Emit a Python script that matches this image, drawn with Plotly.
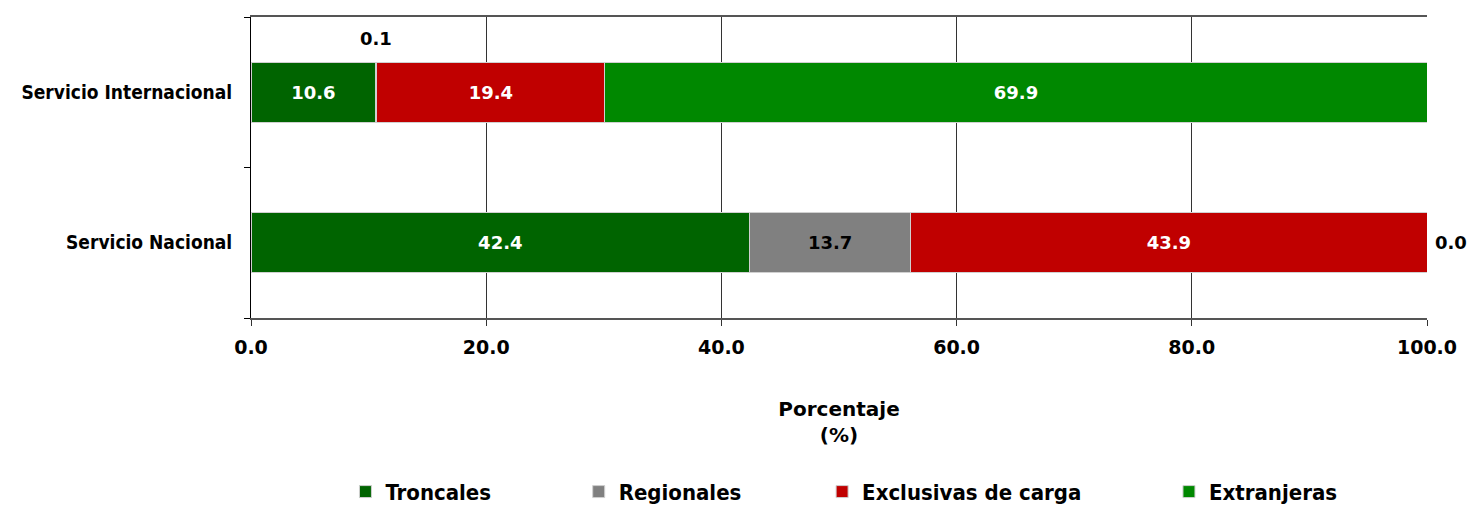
import plotly.graph_objects as go

# Data (percent by type of airline)
categories = ["Servicio Nacional", "Servicio Internacional"]
troncales = [42.4, 10.6]
regionales = [13.7, 0.1]
exclusivas_carga = [43.9, 19.4]
extranjeras = [0.0, 69.9]
x_ticks = [0, 20, 40, 60, 80, 100]

NUM_FONT = "DejaVu Sans"
COND_FONT = "DejaVu Sans Condensed, DejaVu Sans"
series = [
    ("Troncales", troncales, "#006400", "white"),
    ("Regionales", regionales, "#808080", "black"),
    ("Exclusivas de carga", exclusivas_carga, "#C00000", "white"),
    ("Extranjeras", extranjeras, "#008800", "white"),
]
# spacing in the legend (nbsp padding after each name)
pad = [12, 11, 12, 0]

fig = go.Figure()
for (name, vals, color, txtcol), p in zip(series, pad):
    # tiny values get labelled outside the bar with annotations
    text = [f"{v:.1f}" if v >= 1 else "" for v in vals]
    fig.add_trace(go.Bar(
        y=categories, x=vals, orientation="h", name=name + "\u00a0" * p,
        marker=dict(color=color, line=dict(color="#d0d0d0", width=1)),
        text=text, textposition="inside", insidetextanchor="middle",
        textangle=0, constraintext="none",
        textfont=dict(family=NUM_FONT, size=18, color=txtcol, weight="bold"),
        width=0.4, hoverinfo="x+name",
    ))

lab_font = dict(family=NUM_FONT, size=18, color="black", weight="bold")
# Regionales 0.1 (internacional) above the bar
fig.add_annotation(x=troncales[1] + regionales[1] / 2, y=categories[1], text=f"{regionales[1]:.1f}",
                   showarrow=False, yshift=54, font=lab_font)
# Extranjeras 0.0 (nacional) right of the bar
fig.add_annotation(x=troncales[0] + regionales[0] + exclusivas_carga[0] + extranjeras[0], y=categories[0],
                   text=f"{extranjeras[0]:.1f}", showarrow=False, xanchor="left", xshift=6,
                   font=lab_font)

fig.update_layout(
    barmode="stack",
    width=1470, height=507,
    margin=dict(l=251, r=43, t=17, b=189),
    plot_bgcolor="white", paper_bgcolor="white",
    font=dict(family=NUM_FONT, size=18, color="black"),
    showlegend=True,
    legend=dict(orientation="h", xref="container", yref="container",
                x=0.235, y=0.03, xanchor="left", yanchor="middle",
                font=dict(family=COND_FONT, size=22, weight="bold"),
                itemwidth=30, traceorder="normal"),
    xaxis=dict(range=[0, 100], tickvals=x_ticks, ticktext=[f"{v:.1f}" for v in x_ticks],
               showgrid=True, gridcolor="#333333", gridwidth=1,
               showline=True, linecolor="#555555", linewidth=2, mirror=True,
               ticks="outside", ticklen=6, tickcolor="#333333",
               tickfont=dict(family=NUM_FONT, size=19, weight="bold"),
               ticklabelstandoff=5, zeroline=False,
               title=dict(text="Porcentaje<br>(%)", standoff=45,
                          font=dict(family=NUM_FONT, size=20, weight="bold"))),
    yaxis=dict(showline=True, linecolor="black", linewidth=1,
               ticks="outside", ticklen=6, tickcolor="black", tickson="boundaries",
               tickfont=dict(family=COND_FONT, size=19, weight="bold"),
               ticklabelstandoff=14, showgrid=False),
)

fig.write_html("out.html", config={"displayModeBar": False},
               post_script="document.body.style.margin='0';")
